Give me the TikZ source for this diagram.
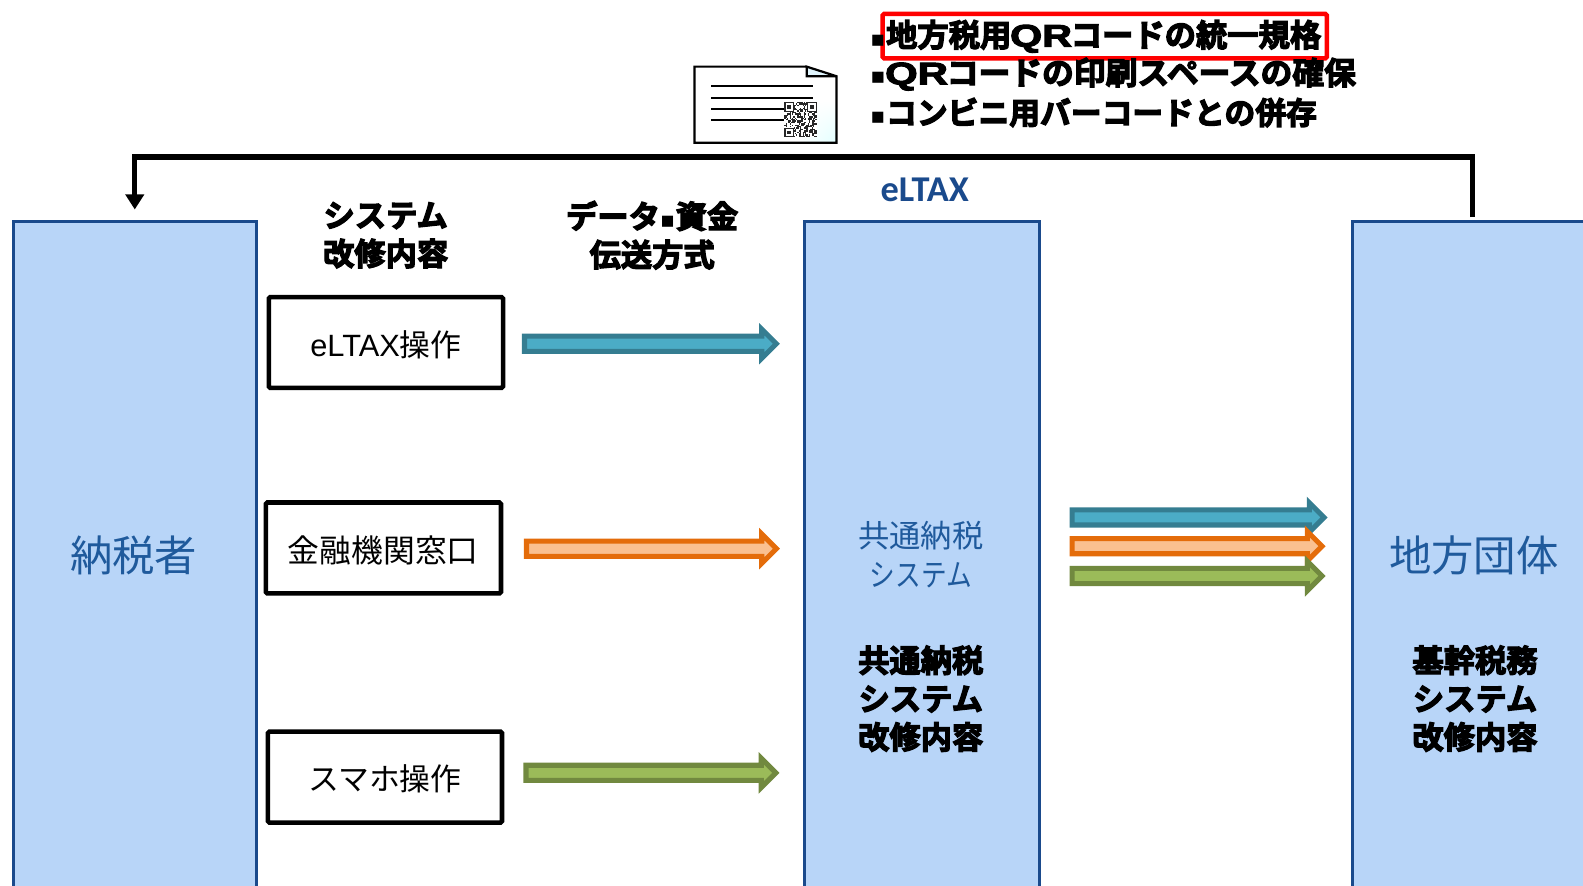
\documentclass[tikz,border=0pt]{standalone}
\usepackage{fontspec}
\usetikzlibrary{shapes.arrows,arrows.meta,shadings}
\newfontfamily\jpreg{Noto Sans CJK JP}
\newfontfamily\jpblack[FakeBold=4]{Noto Sans CJK JP Bold}
\newfontfamily\qrfont[FakeBold=3]{Liberation Sans Bold}
\newfontfamily\lsans{Liberation Sans}
\newfontfamily\dotfont{DejaVu Sans Bold}
\newfontfamily\calib[BoldFont={Carlito Bold}]{Carlito}
\newcommand{\sqdot}{\makebox[15.5pt][l]{\raisebox{0.5pt}{\dotfont\fontsize{22}{22}\selectfont ▪}}}
\newcommand{\qrtxt}{\makebox[59pt][c]{\scalebox{1.32}[1]{\qrfont QR}}}
\newcommand{\lowered}[1]{\raisebox{-2pt}[\height][\depth]{#1}}
\definecolor{panelfill}{HTML}{B8D5F8}
\definecolor{paneledge}{HTML}{1A4A8C}
\definecolor{paneltext}{HTML}{1F5A9C}
\definecolor{tealF}{HTML}{4BACC6}\definecolor{tealD}{HTML}{357D91}
\definecolor{orgF}{HTML}{FAC090}\definecolor{orgD}{HTML}{E46C0A}
\definecolor{grnF}{HTML}{9BBB59}\definecolor{grnD}{HTML}{71893F}
\tikzset{
 panel/.style={draw=paneledge,fill=panelfill,line width=3pt,anchor=north west,inner sep=0pt},
 opbox/.style={draw=black,line width=4.5pt,rounded corners=1.5pt,anchor=north west,inner sep=0pt,minimum width=232pt,minimum height=90pt,font=\jpreg\fontsize{30.5}{33}\selectfont},
 heavy/.style={font=\jpblack\fontsize{31}{38}\selectfont,align=center,inner sep=0pt},
 bigblue/.style={font=\jpreg\fontsize{42}{48}\selectfont,text=paneltext,inner sep=0pt},
 blockarrow/.style n args={2}{single arrow,draw=#1,fill=#2,line width=5pt,inner xsep=0pt,inner ysep=5pt,
   single arrow head extend=7pt,single arrow tip angle=90,anchor=west,shape border rotate=0},
 thickline/.style={line width=5.2pt,draw=black},
}
\begin{document}
\begin{tikzpicture}[x=1pt,y=-1pt]
\useasboundingbox (0,0) rectangle (1568,877.6);
\clip (0,0) rectangle (1568,877.6);
% panels
\node[panel,minimum width=241pt,minimum height=700pt] (tax) at (11.5,217.5) {};
\node[panel,minimum width=233pt,minimum height=700pt] (elt) at (795,217.5) {};
\node[panel,minimum width=241pt,minimum height=700pt] (gov) at (1338.5,217.5) {};
\node[bigblue] (taxl) at (132.5,550.5) {納税者};
\node[bigblue] (govl) at (1460,550.5) {地方団体};
\node[font=\calib\bfseries\fontsize{36}{40}\selectfont,text=paneledge,inner sep=0pt] (eltl) at (916,188) {eLTAX};
\node[font=\jpreg\fontsize{31}{39}\selectfont,text=paneltext,align=center,inner sep=0pt] (cmn) at (912,549.5) {共通納税\\\scalebox{.82}[1]{システム}};
\node[heavy] (cmnm) at (912,692) {共通納税\\システム\\改修内容};
\node[heavy] (govm) at (1461,692) {基幹税務\\システム\\改修内容};
\node[heavy] (h1) at (382,233) {システム\\改修内容};
\node[heavy] (h2) at (646,233) {データ{\sqdot}資金\\伝送方式};
% boxes
\node[opbox] (b1) at (264,292) {\lowered{{\lsans\fontsize{30.5}{33}\selectfont eLTAX}操作}};
\node[opbox,minimum width=233pt,font=\jpreg\fontsize{31.5}{33}\selectfont] (b2) at (261,495.5) {\lowered{金融機関窓口}};
\node[opbox] (b3) at (263,722.5) {\lowered{スマホ操作}};
% block arrows
\node[blockarrow={tealD}{tealF},minimum height=249.5pt] (a1) at (517,340.5) {};
\node[blockarrow={orgD}{orgF},minimum height=247.5pt] (a2) at (519,543.5) {};
\node[blockarrow={grnD}{grnF},minimum height=247.5pt] (a3) at (518.5,765.5) {};
\node[blockarrow={tealD}{tealF},minimum height=249.5pt] (r1) at (1059.5,512.5) {};
\node[blockarrow={orgD}{orgF},minimum height=247.5pt] (r2) at (1059.5,541) {};
\node[blockarrow={grnD}{grnF},minimum height=247.5pt] (r3) at (1059.5,570.5) {};
% return line
\coordinate (gt) at (1458.5,215);
\coordinate (tt) at (133.5,207.5);
\draw[thickline,-{Triangle[length=15pt,width=18pt]}] (gt) -- (1458.5,155.5) -- (133.5,155.5) -- (tt);
% spec list
\node[draw=red,line width=4.5pt,rounded corners=1.5pt,minimum width=440pt,minimum height=44pt,anchor=north west,inner sep=0pt] (redbox) at (872,11.5) {};
\node[heavy,anchor=west] (s1) at (862,36) {\sqdot 地方税用\qrtxt コードの統一規格};
\node[heavy,anchor=west] (s2) at (862,73.5) {\scalebox{1.015}[1]{\sqdot\qrtxt コードの印刷スペースの確保}};
\node[heavy,anchor=west,font=\jpblack\fontsize{30.5}{38}\selectfont] (s3) at (862,111.5) {\sqdot コンビニ用バーコードとの併存};
% document icon
\begin{scope}
\path[fill=white] (688,66) -- (799,66) -- (828.5,75.5) -- (828.5,141.5) -- (688,141.5) -- cycle;
\shade[lower right=cyan!12,upper left=white,upper right=white,lower left=white] (790,100) rectangle (828.5,141.5);
\fill[cyan!12] (799,66) -- (799,75.5) -- (828.5,75.5) -- cycle;
\draw[line width=2.2pt,line join=miter] (799,66) -- (688,66) -- (688,141.5) -- (828.5,141.5) -- (828.5,75.5) -- (799,66) -- (799,75.5) -- (828.5,75.5);
\foreach \yy/\xe in {85/805,97/805,108/777,119/777}
  \draw[line width=1.5pt] (704.5,\yy) -- (\xe,\yy);
\fill[white] (777,101) rectangle (809,136);
\begin{scope}[shift={(777,101)}]
\pgfmathsetseed{11}
\foreach \i in {0,...,24}{\foreach \j in {0,...,24}{
  \pgfmathrandominteger{\rr}{0}{1}
  \ifnum\rr=1
   \fill[black!85] ({\i*1.28},{\j*1.4}) rectangle ++(1.28,1.4);
  \fi}}
\foreach \ox/\oy in {0/0,22.4/0,0/25.2}{
  \fill[white] (\ox,\oy) rectangle ++(9.6,9.8);
  \draw[black!85,line width=1.1pt] (\ox+.6,\oy+.7) rectangle ++(8.4,8.4);
  \fill[black!85] (\ox+3,\oy+3.3) rectangle ++(3.6,3.4);}
\end{scope}
\end{scope}
\end{tikzpicture}
\end{document}
